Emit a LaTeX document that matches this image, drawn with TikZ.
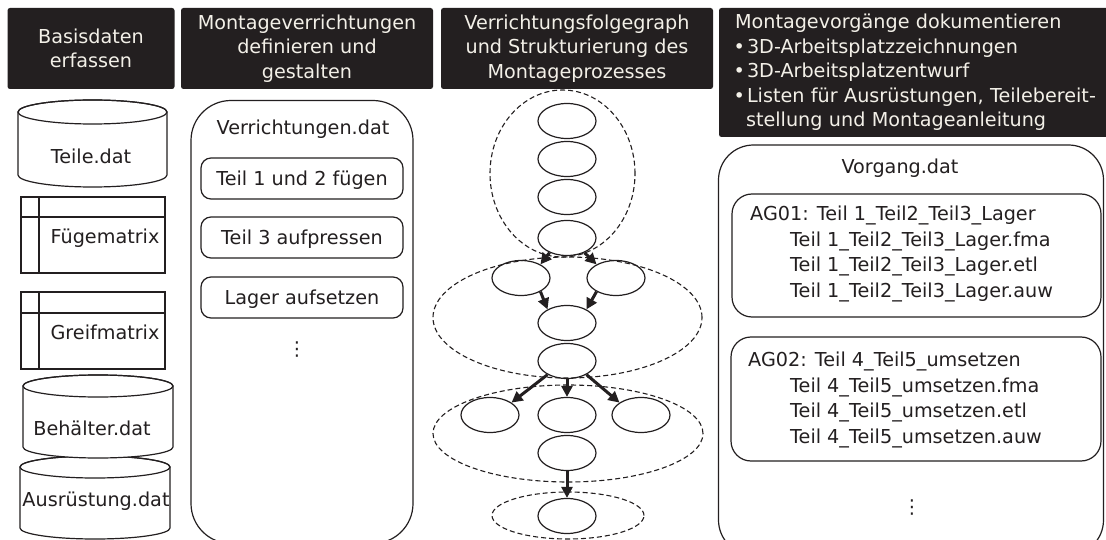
\documentclass[tikz,border=0pt]{standalone}
\usepackage{fontspec}
\setmainfont{DejaVu Sans}
\usetikzlibrary{shapes.geometric,arrows.meta}
\definecolor{ink}{HTML}{231F20}
\definecolor{paper}{HTML}{F3F0E8}
% bullet with a fixed slot width
\newcommand\bul{\makebox[12pt][l]{\kern-1.5pt\textbullet}}
% database drum: left x, right x, top rim centre y, bottom rim centre y, rim half height
\newcommand\dbdrum[5]{%
  \pgfmathsetmacro\drumcx{(#1+#2)/2}%
  \pgfmathsetmacro\drumrx{(#2-#1)/2}%
  \draw[outl, fill=white] (#1,#3) -- (#1,#4)
     arc[start angle=180, end angle=360, x radius=\drumrx pt, y radius=#5pt]
     -- (#2,#3)
     arc[start angle=0, end angle=180, x radius=\drumrx pt, y radius=#5pt] -- cycle;
  \draw[outl] (\drumcx,#3) ellipse[x radius=\drumrx pt, y radius=#5pt];
}
\begin{document}
\begin{tikzpicture}[x=1pt, y=-1pt,
  outl/.style={draw=ink, line width=1.2pt},
  body/.style={font=\fontsize{19.2}{25.5}\selectfont, text=ink, inner sep=0pt},
  lbl/.style={body, text height=13.8pt, text depth=0pt},
  hdr/.style={fill=ink, rounded corners=2.5pt, text=paper,
    font=\fontsize{19.2}{24.5}\selectfont, align=center, inner sep=0pt},
  item/.style={outl, lbl, rounded corners=10pt, minimum width=202pt, minimum height=41pt},
  agbox/.style={outl, rounded corners=20pt},
  ev/.style={ellipse, outl, minimum width=58pt, minimum height=35pt, inner sep=0pt},
  grp/.style={ellipse, draw=ink, line width=1.1pt, dash pattern=on 5pt off 3pt, inner sep=0pt},
  flow/.style={draw=ink, line width=3pt, -{Triangle[length=11pt,width=11pt]}}
]
\useasboundingbox (0,0) rectangle (1106,540);
\clip (0,0) rectangle (1106,540);
\fill[white] (0,0) rectangle (1106,540);

% ---- column headers
\node[hdr, minimum width=167pt, minimum height=81pt] (h1) at (91,48.5) {Basisdaten\\erfassen};
\node[hdr, minimum width=252pt, minimum height=81pt] (h2) at (307,48.5) {Montageverrichtungen\\definieren und\\gestalten};
\node[hdr, minimum width=272pt, minimum height=81pt] (h3) at (577,48.5) {Verrichtungsfolgegraph\\und Strukturierung des\\Montageprozesses};
\node[hdr, minimum width=391pt, minimum height=129pt, inner xsep=16pt, text width=359pt, align=left] (h4) at (914.5,72.5)
  {Montagevorgänge dokumentieren\\
   \bul 3D-Arbeitsplatzzeichnungen\\
   \bul 3D-Arbeitsplatzentwurf\\
   \bul \mbox{Listen für Ausrüstungen, Teilebereit-}\\
   \hspace*{11pt}stellung und Montageanleitung};

% ---- column 1: base data
\dbdrum{18}{167}{112}{175}{12}
\node[lbl] (teile) at (91,157) {Teile.dat};

\draw[outl] (21,197) rectangle (165,273);
\draw[outl] (39,197) -- (39,273) (21,217) -- (165,217);
\node[lbl] (fuege) at (105,237) {Fügematrix};

\draw[outl] (21,292) rectangle (165,369);
\draw[outl] (39,292) -- (39,369) (21,313) -- (165,313);
\node[lbl] (greif) at (105,333) {Greifmatrix};

\dbdrum{20}{170}{467}{528}{11}
\dbdrum{23}{173}{386}{447}{11}
\node[lbl] (behael) at (92,429) {Behälter.dat};
\node[lbl] (ausr) at (96,500) {Ausrüstung.dat};

% ---- column 2: operations
\node[outl, rounded corners=40pt, minimum width=222pt, minimum height=443pt] (verr) at (302,322) {};
\node[lbl] (verrt) at (303,128) {Verrichtungen.dat};
\node[item] (op1) at (302,178.5) {Teil 1 und 2 fügen};
\node[item] (op2) at (302,237.5) {Teil 3 aufpressen};
\node[item] (op3) at (302,297.5) {Lager aufsetzen};
\node[body] (opmore) at (297,350) {⋮};

% ---- column 3: precedence graph
\node[grp, minimum width=145pt, minimum height=167pt] (g1) at (562.5,173.5) {};
\node[grp, minimum width=269pt, minimum height=121pt] (g2) at (567.5,317.5) {};
\node[grp, minimum width=270pt, minimum height=97pt] (g3) at (568,433.5) {};
\node[grp, minimum width=152pt, minimum height=47pt] (g4) at (568,515.5) {};

\node[ev] (a1) at (567,121) {};
\node[ev] (a2) at (567,159) {};
\node[ev] (a3) at (567,197) {};
\node[ev] (a4) at (567,238) {};
\node[ev] (b1) at (521,278) {};
\node[ev] (b2) at (616,278) {};
\node[ev] (c1) at (567,323) {};
\node[ev] (c2) at (567,361) {};
\node[ev] (d1) at (490,415) {};
\node[ev] (d2) at (567,415) {};
\node[ev] (d3) at (641,415) {};
\node[ev] (d4) at (567,453) {};
\node[ev] (f1) at (567,516) {};

\draw[flow] (a4.220) -- (b1.35);
\draw[flow] (a4.320) -- (b2.145);
\draw[flow] (b1.325) -- (c1.145);
\draw[flow] (b2.215) -- (c1.35);
\draw[flow] (c2.215) -- (d1.30);
\draw[flow] (c2.south) -- (d2.north);
\draw[flow] (c2.325) -- (d3.150);
\draw[flow] (d4.south) -- (f1.north);

% ---- column 4: work steps
\node[outl, rounded corners=35pt, minimum width=385pt, minimum height=410pt] (vorg) at (911,350) {};
\node[lbl] (vorgt) at (900,167) {Vorgang.dat};
\node[agbox, minimum width=369pt, minimum height=123pt] (ag1) at (916.5,255.5) {};
\node[agbox, minimum width=370pt, minimum height=124pt] (ag2) at (916,399) {};
\node[body, align=left, anchor=north west] (ag1t) at (750,206)
  {AG01: Teil 1\_Teil2\_Teil3\_Lager\\
   \hspace*{40pt}Teil 1\_Teil2\_Teil3\_Lager.fma\\
   \hspace*{40pt}Teil 1\_Teil2\_Teil3\_Lager.etl\\
   \hspace*{40pt}Teil 1\_Teil2\_Teil3\_Lager.auw};
\node[body, align=left, anchor=north west] (ag2t) at (748,352)
  {AG02: Teil 4\_Teil5\_umsetzen\\
   \hspace*{42pt}Teil 4\_Teil5\_umsetzen.fma\\
   \hspace*{42pt}Teil 4\_Teil5\_umsetzen.etl\\
   \hspace*{42pt}Teil 4\_Teil5\_umsetzen.auw};
\node[body] (agmore) at (912,508) {⋮};
\end{tikzpicture}
\end{document}
